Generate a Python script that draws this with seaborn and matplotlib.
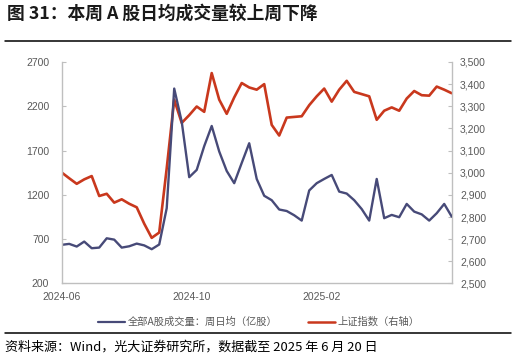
import pandas as pd
import matplotlib
matplotlib.use("Agg")
import matplotlib.pyplot as plt
from matplotlib.lines import Line2D
import seaborn as sns

sns.set_style("white")
plt.rcParams['font.family'] = ['Noto Sans CJK SC', 'DejaVu Sans']

# weekly data, 2024-06-21 .. 2025-06-20
weeks = pd.date_range("2024-06-21", "2025-06-20", freq="7D")

# 全部A股成交量：周日均（亿股）
volume = [636, 647, 617, 673, 598, 605, 710, 695, 605, 620,
          650, 630, 587, 640, 1050, 2400, 2027, 1400, 1482, 1750,
          1978, 1690, 1470, 1332, 1560, 1783, 1380, 1190, 1140, 1035,
          1018, 970, 910, 1250, 1332, 1380, 1425, 1237, 1215, 1140,
          1040, 910, 1380, 937, 974, 948, 1098, 1011, 980, 910,
          993, 1098, 955]

# 上证指数（右轴）
sh_index = [3001, 2975, 2950, 2970, 2985, 2895, 2905, 2865, 2880, 2860,
            2844, 2770, 2706, 2730, 3020, 3330, 3225, 3260, 3299, 3275,
            3450, 3330, 3266, 3340, 3405, 3385, 3375, 3400, 3216, 3168,
            3249, 3252, 3255, 3305, 3345, 3380, 3321, 3375, 3415, 3365,
            3355, 3345, 3239, 3280, 3295, 3280, 3335, 3369, 3350, 3348,
            3389, 3375, 3359]

tick_dates = pd.to_datetime(["2024-06-21", "2024-10-20", "2025-02-19"])
tick_labels = ["2024-06", "2024-10", "2025-02"]
left_ticks = [200, 700, 1200, 1700, 2200, 2700]
right_ticks = [2500, 2600, 2700, 2800, 2900, 3000, 3100, 3200, 3300, 3400, 3500]

df = pd.DataFrame({"week": weeks, "volume": volume, "sh_index": sh_index})

blue = "#474a78"
red = "#c9381d"
grey = "#595959"
spine_c = "#bfbfbf"

fig = plt.figure(figsize=(5.16, 3.64), dpi=100)
ax = fig.add_axes([0.1196, 0.2212, 0.7558, 0.6085])
ax2 = ax.twinx()

sns.lineplot(data=df, x="week", y="volume", ax=ax, color=blue, lw=1.7,
             solid_joinstyle="round")
sns.lineplot(data=df, x="week", y="sh_index", ax=ax2, color=red, lw=1.9,
             solid_joinstyle="round")
ax.set_zorder(ax2.get_zorder() + 1)
ax.patch.set_visible(False)

ax.set_xlim(weeks[0], weeks[-1])
ax.set_ylim(200, 2700)
ax2.set_ylim(2500, 3500)
ax.set_xticks(tick_dates)
ax.set_xticklabels(tick_labels)
ax.set_yticks(left_ticks)
ax.set_yticklabels([str(v) for v in left_ticks])
ax2.set_yticks(right_ticks)
ax2.set_yticklabels([f"{v:,}" for v in right_ticks])
ax.set_xlabel("")
ax.set_ylabel("")
ax2.set_ylabel("")

for a in (ax, ax2):
    for s in a.spines.values():
        s.set_color(spine_c)
        s.set_linewidth(1.0)
    a.spines["top"].set_visible(False)
    a.tick_params(direction="in", length=3, width=0.8, color=spine_c,
                  labelsize=7.5, labelcolor=grey)
    for t in a.get_xticklabels() + a.get_yticklabels():
        t.set_family(["Liberation Sans", "DejaVu Sans"])
ax.tick_params(axis="y", pad=9)
ax.tick_params(axis="x", pad=6)
ax2.tick_params(axis="y", pad=6)
ax2.spines["left"].set_visible(False)
ax2.spines["bottom"].set_visible(False)
ax.spines["right"].set_visible(False)
ax.grid(False)
ax2.grid(False)

handles = [Line2D([], [], color=blue, lw=1.6), Line2D([], [], color=red, lw=1.8)]
fig.legend(handles, ["全部A股成交量：周日均（亿股）", "上证指数（右轴）"],
           loc="center", bbox_to_anchor=(0.502, 1 - 322 / 364), ncol=2,
           frameon=False, fontsize=7.4, labelcolor=grey, handlelength=2.6,
           handletextpad=0.3, columnspacing=2.9)

fig.text(0.014, 1 - 14 / 364, "图 31：本周 A 股日均成交量较上周下降",
         fontsize=12.8, fontweight="bold", va="center", ha="left", color="#1a1a1a")
fig.add_artist(Line2D([0.01, 0.99], [1 - 40.5 / 364] * 2, color="black", lw=1.1,
                      transform=fig.transFigure))
fig.add_artist(Line2D([0.01, 0.99], [1 - 332.5 / 364] * 2, color="black", lw=1.1,
                      transform=fig.transFigure))
fig.text(0.01, 1 - 347 / 364, "资料来源：Wind，光大证券研究所，数据截至 2025 年 6 月 20 日",
         fontsize=9.4, va="center", ha="left", color="black")

fig.savefig("out.png", dpi=100)
